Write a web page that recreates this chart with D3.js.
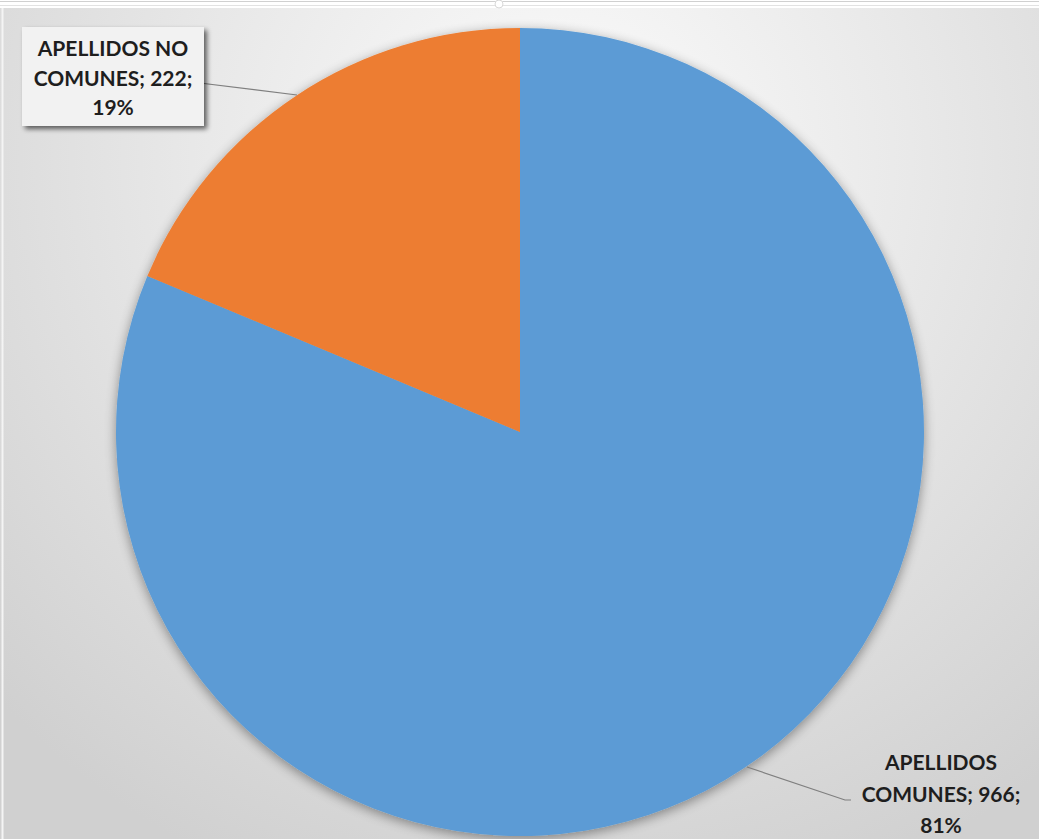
<!DOCTYPE html>
<html><head><meta charset="utf-8">
<script src="https://cdn.jsdelivr.net/npm/d3@7"></script>
<style>html,body{margin:0;padding:0;background:#fff;overflow:hidden}</style>
</head><body>
<svg id="c" width="1039" height="839"></svg>
<script>
const categories = ["APELLIDOS COMUNES", "APELLIDOS NO COMUNES"];
const values = [966, 222];
const percentLabels = ["81%", "19%"];
const colors = ["#5b9bd5", "#ed7d31"];

const W = 1039, H = 839;
const svg = d3.select("#c");
const defs = svg.append("defs");

const bg = defs.append("radialGradient").attr("id","bg")
  .attr("gradientUnits","userSpaceOnUse").attr("cx",560).attr("cy",160).attr("r",780);
bg.append("stop").attr("offset","0%").attr("stop-color","#fcfcfc");
bg.append("stop").attr("offset","45%").attr("stop-color","#e9e9e9");
bg.append("stop").attr("offset","100%").attr("stop-color","#d0d0d0");

const sh = defs.append("filter").attr("id","pieShadow").attr("x","-20%").attr("y","-20%").attr("width","140%").attr("height","140%");
sh.append("feGaussianBlur").attr("in","SourceAlpha").attr("stdDeviation",6);
sh.append("feOffset").attr("dx",0).attr("dy",3).attr("result","b");
sh.append("feComponentTransfer").append("feFuncA").attr("type","linear").attr("slope",0.4);
const m = sh.append("feMerge"); m.append("feMergeNode"); m.append("feMergeNode").attr("in","SourceGraphic");

const bs = defs.append("filter").attr("id","boxShadow").attr("x","-20%").attr("y","-20%").attr("width","150%").attr("height","150%");
bs.append("feGaussianBlur").attr("in","SourceAlpha").attr("stdDeviation",2.5);
bs.append("feOffset").attr("dx",3).attr("dy",3).attr("result","b");
bs.append("feComponentTransfer").append("feFuncA").attr("type","linear").attr("slope",0.6);
const m2 = bs.append("feMerge"); m2.append("feMergeNode"); m2.append("feMergeNode").attr("in","SourceGraphic");

svg.append("rect").attr("x",0).attr("y",0).attr("width",W).attr("height",H).attr("fill","url(#bg)");
// top frame strip
svg.append("rect").attr("x",0).attr("y",0).attr("width",W).attr("height",8).attr("fill","#ffffff");
svg.append("line").attr("x1",0).attr("x2",W).attr("y1",1.5).attr("y2",1.5).attr("stroke","#d0d0d0");
svg.append("line").attr("x1",0).attr("x2",W).attr("y1",5.5).attr("y2",5.5).attr("stroke","#e2e2e2");
svg.append("circle").attr("cx",499).attr("cy",4).attr("r",4).attr("fill","#fff").attr("stroke","#d8d8d8");
svg.append("line").attr("x1",2.5).attr("x2",2.5).attr("y1",8).attr("y2",H).attr("stroke","#f4f4f4").attr("stroke-width",2);

const cx = 520, cy = 432, R = 404;
const pie = d3.pie().sort(null).value(d => d)(values);
const arc = d3.arc().innerRadius(0).outerRadius(R);

const g = svg.append("g").attr("transform",`translate(${cx},${cy})`);
g.append("g").attr("filter","url(#pieShadow)")
  .selectAll("path").data(pie).join("path")
  .attr("d",arc).attr("fill",(d,i)=>colors[i]);

// leader lines
const leaders = [
  [[747,767],[845,800],[851,800]],
  [[297,95],[200,83]]
];
leaders.forEach(pts=>{
  svg.append("path").attr("d",d3.line()(pts)).attr("fill","none").attr("stroke","#7f7f7f").attr("stroke-width",1.2);
});

const font = "Lato, 'Open Sans', sans-serif";
// label box for NO COMUNES
svg.append("rect").attr("x",22).attr("y",27).attr("width",182).attr("height",99)
  .attr("fill","#f2f2f2").attr("filter","url(#boxShadow)");
function label(lines, x, ys){
  const t = svg.append("text").attr("text-anchor","middle").attr("font-family",font)
    .attr("font-weight","bold").attr("font-size",21).attr("fill","#1e1e1e");
  lines.forEach((l,i)=>t.append("tspan").attr("x",x).attr("y",ys[i]).text(l));
}
label(["APELLIDOS NO", `COMUNES; ${values[1]};`, percentLabels[1]], 113, [56, 86, 115]);
label(["APELLIDOS", `COMUNES; ${values[0]};`, percentLabels[0]], 941, [770, 802, 833]);
</script>
</body></html>
